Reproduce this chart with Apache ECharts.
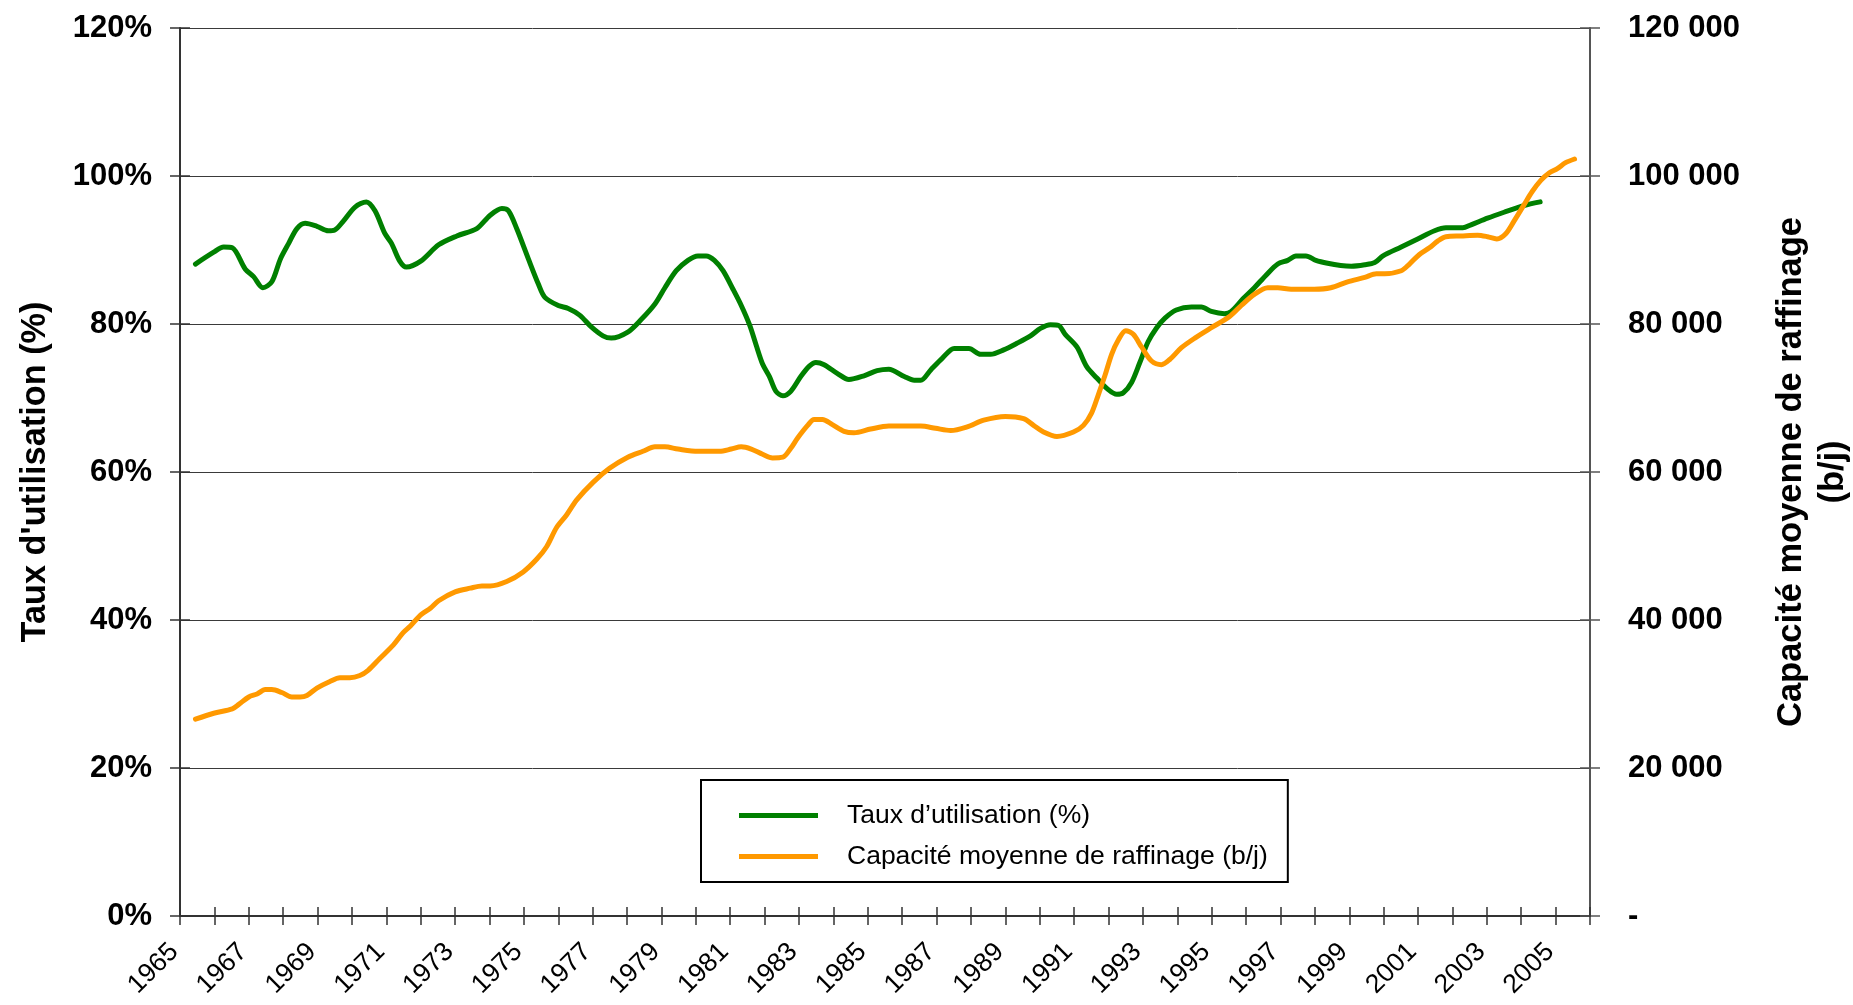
<!DOCTYPE html>
<html>
<head>
<meta charset="utf-8">
<title>Taux d'utilisation et capacité moyenne de raffinage</title>
<script src="https://cdn.jsdelivr.net/npm/echarts@6/dist/echarts.min.js"></script>
<style>
    html, body { margin: 0; padding: 0; background: #fff; }
    #graphique { width: 1853px; height: 1005px; }
</style>
</head>
<body>
<div id="graphique"></div>
<script>
// valeurs (abscisse = année décimale)
var anneesTaux = [1965.45, 1965.98, 1966.27, 1966.52, 1966.9, 1967.14, 1967.41, 1967.67, 1967.92, 1968.16,
    1968.4, 1968.64, 1968.98, 1969.31, 1969.5, 1969.75, 1970.09, 1970.42, 1970.67, 1970.96,
    1971.15, 1971.39, 1971.58, 1972.0, 1972.52, 1973.05, 1973.63, 1974.02, 1974.36, 1974.55,
    1974.79, 1975.13, 1975.42, 1975.61, 1976.0, 1976.29, 1976.62, 1976.96, 1977.3, 1977.54,
    1978.02, 1978.41, 1978.81, 1979.1, 1979.43, 1979.77, 1980.06, 1980.3, 1980.54, 1980.79,
    1981.08, 1981.32, 1981.56, 1981.75, 1981.94, 1982.14, 1982.33, 1982.53, 1982.76, 1983.05,
    1983.3, 1983.49, 1983.73, 1984.12, 1984.45, 1984.89, 1985.27, 1985.61, 1986.06, 1986.35,
    1986.54, 1986.83, 1987.17, 1987.51, 1987.94, 1988.28, 1988.57, 1988.95, 1989.34, 1989.73,
    1990.02, 1990.31, 1990.55, 1990.74, 1991.08, 1991.37, 1991.66, 1991.95, 1992.24, 1992.43,
    1992.67, 1992.91, 1993.15, 1993.4, 1993.64, 1993.97, 1994.41, 1994.7, 1994.99, 1995.37,
    1995.57, 1995.91, 1996.24, 1996.58, 1996.92, 1997.21, 1997.45, 1997.74, 1998.03, 1998.37,
    1998.75, 1999.06, 1999.45, 1999.74, 1999.98, 2000.51, 2000.99, 2001.48, 2001.81, 2002.3,
    2002.54, 2003.02, 2003.5, 2004.08, 2004.55];
var taux = [88.1, 89.7, 90.4, 90.3, 87.4, 86.4, 84.9, 85.7, 88.8, 90.9,
    92.9, 93.6, 93.2, 92.6, 92.7, 93.9, 95.8, 96.5, 95.3, 92.2,
    90.9, 88.5, 87.7, 88.5, 90.7, 91.9, 92.9, 94.7, 95.6, 95.3,
    92.9, 88.8, 85.4, 83.6, 82.5, 82.1, 81.2, 79.6, 78.4, 78.1,
    78.9, 80.6, 82.7, 84.9, 87.2, 88.6, 89.2, 89.2, 88.6, 87.2,
    84.7, 82.5, 79.9, 77.2, 74.6, 72.9, 70.9, 70.3, 70.9, 72.9,
    74.3, 74.8, 74.5, 73.3, 72.5, 73.0, 73.7, 73.9, 72.9, 72.4,
    72.4, 73.8, 75.4, 76.7, 76.7, 75.9, 75.9, 76.5, 77.4, 78.4,
    79.4, 79.9, 79.8, 78.6, 76.9, 74.2, 72.7, 71.3, 70.5, 70.7,
    72.1, 74.8, 77.6, 79.5, 80.8, 81.9, 82.3, 82.3, 81.7, 81.4,
    81.7, 83.4, 84.9, 86.6, 88.1, 88.6, 89.2, 89.2, 88.6, 88.2,
    87.9, 87.8, 88.0, 88.3, 89.2, 90.4, 91.5, 92.6, 93.0, 93.0,
    93.4, 94.3, 95.1, 96.0, 96.5];

var anneesCapacite = [1965.45, 1965.98, 1966.52, 1966.71, 1967.0, 1967.24, 1967.48, 1967.67, 1967.96, 1968.25,
    1968.49, 1968.69, 1968.98, 1969.36, 1969.65, 1969.94, 1970.23, 1970.47, 1970.81, 1971.2,
    1971.49, 1971.7, 1972.0, 1972.28, 1972.52, 1973.0, 1973.44, 1973.78, 1974.02, 1974.5,
    1974.98, 1975.37, 1975.66, 1975.95, 1976.24, 1976.53, 1977.01, 1977.49, 1978.02, 1978.46,
    1978.81, 1979.1, 1979.48, 1980.06, 1980.69, 1981.03, 1981.32, 1981.61, 1981.94, 1982.23,
    1982.53, 1982.76, 1982.96, 1983.25, 1983.44, 1983.68, 1983.97, 1984.31, 1984.6, 1985.08,
    1985.61, 1986.06, 1986.54, 1986.97, 1987.41, 1987.89, 1988.37, 1989.0, 1989.53, 1989.82,
    1990.11, 1990.5, 1990.98, 1991.27, 1991.51, 1991.7, 1991.9, 1992.09, 1992.28, 1992.5,
    1992.72, 1992.96, 1993.25, 1993.54, 1993.78, 1994.12, 1994.51, 1994.99, 1995.52, 1995.86,
    1996.24, 1996.63, 1996.92, 1997.31, 1997.98, 1998.46, 1998.95, 1999.45, 1999.79, 2000.03,
    2000.51, 2000.75, 2001.04, 2001.33, 2001.57, 2001.81, 2002.25, 2002.73, 2003.02, 2003.29,
    2003.55, 2003.79, 2004.08, 2004.32, 2004.57, 2004.81, 2005.05, 2005.29, 2005.55];
var capacite = [26600, 27400, 28000, 28600, 29600, 30000, 30600, 30600, 30200, 29600,
    29600, 29800, 30800, 31700, 32200, 32200, 32500, 33200, 34800, 36600,
    38300, 39200, 40700, 41600, 42600, 43800, 44300, 44600, 44600, 45200,
    46500, 48200, 49900, 52500, 54200, 56200, 58600, 60500, 62000, 62800,
    63400, 63400, 63100, 62800, 62800, 63100, 63400, 63100, 62400, 61900,
    62000, 63200, 64600, 66300, 67100, 67100, 66400, 65500, 65300, 65800,
    66200, 66200, 66200, 65900, 65600, 66100, 67000, 67500, 67200, 66300,
    65400, 64800, 65400, 66300, 68000, 70400, 73100, 75900, 77800, 79100,
    78600, 76900, 75000, 74500, 75200, 76800, 78100, 79500, 81000, 82500,
    84000, 84900, 84900, 84700, 84700, 84900, 85700, 86300, 86800, 86800,
    87200, 88100, 89400, 90300, 91200, 91800, 91900, 92000, 91800, 91500,
    92200, 93900, 96100, 97900, 99400, 100400, 101000, 101800, 102300];

var nomTaux = 'Taux d’utilisation (%)';
var nomCapacite = 'Capacité moyenne de raffinage (b/j)';

var police = "'Liberation Sans', Arial, sans-serif";

function paires(xs, ys) {
    return xs.map(function (x, i) { return [x, ys[i]]; });
}

function formatMilliers(v) {
    if (v === 0) return '-';
    return String(v).replace(/\B(?=(\d{3})+(?!\d))/g, ' ');
}

var myChart = echarts.init(document.getElementById('graphique'));

// axe des x : une graduation par an, libellé une année sur deux
var axeX = {
    type: 'value',
    min: 1965,
    max: 2006,
    interval: 1,
    axisLine: { show: true, onZero: false, lineStyle: { color: '#333', width: 2 } },
    axisTick: { show: true, inside: false, length: 9, lineStyle: { color: '#333', width: 1.5 } },
    axisLabel: {
        rotate: 45,
        margin: 26,
        padding: [0, 8, 0, 0],
        color: '#000',
        fontFamily: police,
        fontSize: 26.5,
        formatter: function (v) { return v % 2 === 1 ? String(v) : ''; }
    },
    splitLine: { show: false }
};
// deuxième axe x pour les graduations qui traversent l'axe
var axeXInterieur = {
    type: 'value', min: 1965, max: 2006, interval: 1, position: 'bottom',
    axisLine: { show: false },
    axisTick: { show: true, inside: true, length: 9, lineStyle: { color: '#333', width: 1.5 } },
    axisLabel: { show: false },
    splitLine: { show: false }
};

var option = {
    backgroundColor: '#fff',
    animation: false,
    textStyle: { fontFamily: police },
    grid: {
        left: 180,
        right: 263,
        top: 28,
        bottom: 89,
        containLabel: false,
        outerBoundsMode: 'none'
    },
    legend: {
        orient: 'vertical',
        left: 701,
        top: 780,
        padding: [22, 20, 12, 38],
        itemGap: 14,
        itemWidth: 79,
        itemHeight: 5,
        icon: 'rect',
        backgroundColor: '#fff',
        borderColor: '#000',
        borderWidth: 2,
        borderRadius: 0,
        textStyle: { fontSize: 26.5, color: '#000', fontFamily: police, padding: [0, 0, 0, 24] },
        data: [nomTaux, nomCapacite]
    },
    xAxis: [axeX, axeXInterieur],
    yAxis: [
        {
            type: 'value',
            position: 'left',
            min: 0,
            max: 120,
            interval: 20,
            name: "Taux d'utilisation (%)",
            nameLocation: 'middle',
            nameRotate: 90,
            nameGap: 127,
            nameTextStyle: { fontSize: 34.3, fontWeight: 'bold', color: '#000', fontFamily: police },
            axisLine: { show: true, lineStyle: { color: '#333', width: 2 } },
            axisTick: { show: true, inside: false, length: 10, lineStyle: { color: '#333', width: 1.5 } },
            axisLabel: {
                margin: 28,
                fontSize: 31,
                fontWeight: 'bold',
                color: '#000',
                fontFamily: police,
                formatter: '{value}%'
            },
            splitLine: { show: true, lineStyle: { color: '#3a3a3a', width: 1 } }
        },
        {
            type: 'value',
            position: 'right',
            min: 0,
            max: 120000,
            interval: 20000,
            name: 'Capacité moyenne de raffinage\n(b/j)',
            nameLocation: 'middle',
            nameRotate: 90,
            nameGap: 180,
            nameTextStyle: { fontSize: 34.5, fontWeight: 'bold', color: '#000', fontFamily: police, lineHeight: 42, align: 'center' },
            axisLine: { show: true, lineStyle: { color: '#555', width: 2 } },
            axisTick: { show: true, inside: false, length: 10, lineStyle: { color: '#555', width: 1.5 } },
            axisLabel: {
                margin: 38,
                fontSize: 31,
                fontWeight: 'bold',
                color: '#000',
                fontFamily: police,
                formatter: formatMilliers
            },
            splitLine: { show: false }
        },
        {
            type: 'value', position: 'left', min: 0, max: 120, interval: 20,
            axisLine: { show: false },
            axisTick: { show: true, inside: true, length: 10, lineStyle: { color: '#333', width: 1.5 } },
            axisLabel: { show: false },
            splitLine: { show: false }
        },
        {
            type: 'value', position: 'right', min: 0, max: 120000, interval: 20000,
            axisLine: { show: false },
            axisTick: { show: true, inside: true, length: 10, lineStyle: { color: '#555', width: 1.5 } },
            axisLabel: { show: false },
            splitLine: { show: false }
        }
    ],
    series: [
        {
            name: nomTaux,
            type: 'line',
            xAxisIndex: 0,
            yAxisIndex: 0,
            data: paires(anneesTaux, taux),
            showSymbol: false,
            symbol: 'none',
            smooth: 0.3,
            color: '#008000',
            lineStyle: { color: '#008000', width: 5, cap: 'round', join: 'round' },
            z: 3
        },
        {
            name: nomCapacite,
            type: 'line',
            xAxisIndex: 0,
            yAxisIndex: 1,
            data: paires(anneesCapacite, capacite),
            showSymbol: false,
            symbol: 'none',
            smooth: 0.3,
            color: '#FF9900',
            lineStyle: { color: '#FF9900', width: 5, cap: 'round', join: 'round' },
            z: 4
        }
    ]
};
myChart.setOption(option);
</script>
</body>
</html>
